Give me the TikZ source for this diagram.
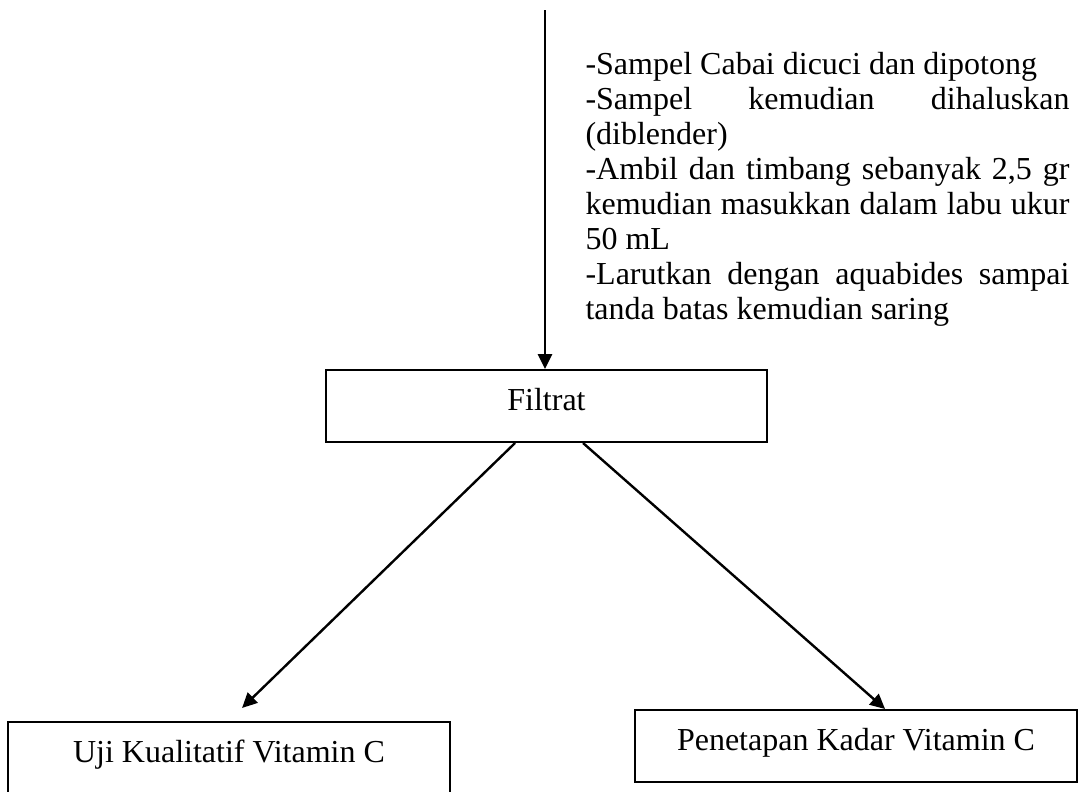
\documentclass[tikz,border=0pt]{standalone}
\usepackage{fontspec}
\setmainfont{Liberation Serif}
\usetikzlibrary{arrows.meta}
\hyphenpenalty=10000
\tolerance=10000

\begin{document}
\begin{tikzpicture}[x=0.375pt,y=-0.375pt,
  txt/.style={font=\fontsize{12}{13.1}\selectfont},
  box/.style={txt,draw,line width=0.75pt,inner sep=0pt,minimum width=165.4pt,
    text height=15pt,text depth=12pt},
  arr/.style={line width=0.9pt,-{Triangle[length=5.6pt,width=5.3pt]}}]
  % Page frame.
  \useasboundingbox (0,0) rectangle (1079,791);
  % Working steps beside the arrow.
  \node[txt,anchor=north west,inner sep=0pt,text width=181.5pt,align=justify] (steps) at (585,52)
    {-Sampel Cabai dicuci dan dipotong\par
     -Sampel kemudian dihaluskan\linebreak (diblender)\par
     -Ambil dan timbang sebanyak 2,5 gr\linebreak kemudian masukkan dalam labu ukur\linebreak 50 mL\par
     -Larutkan dengan aquabides sampai\linebreak tanda batas kemudian saring};
  % Boxes.
  \node[box] (filtrat) at (546.5,406) {Filtrat};
  \node[box] (kuali) at (229,758) {Uji Kualitatif Vitamin C};
  \node[box] (kadar) at (856,746) {Penetapan Kadar Vitamin C};
  % Arrows.
  \coordinate (src) at (545,10);
  \draw[arr] (src) -- (src |- filtrat.north);
  \draw[arr] ([xshift=-11.8pt]filtrat.south) -- ([xshift=4.9pt,yshift=4.9pt]kuali.north);
  \draw[arr] ([xshift=13.7pt]filtrat.south) -- ([xshift=10.9pt]kadar.north);
\end{tikzpicture}
\end{document}
